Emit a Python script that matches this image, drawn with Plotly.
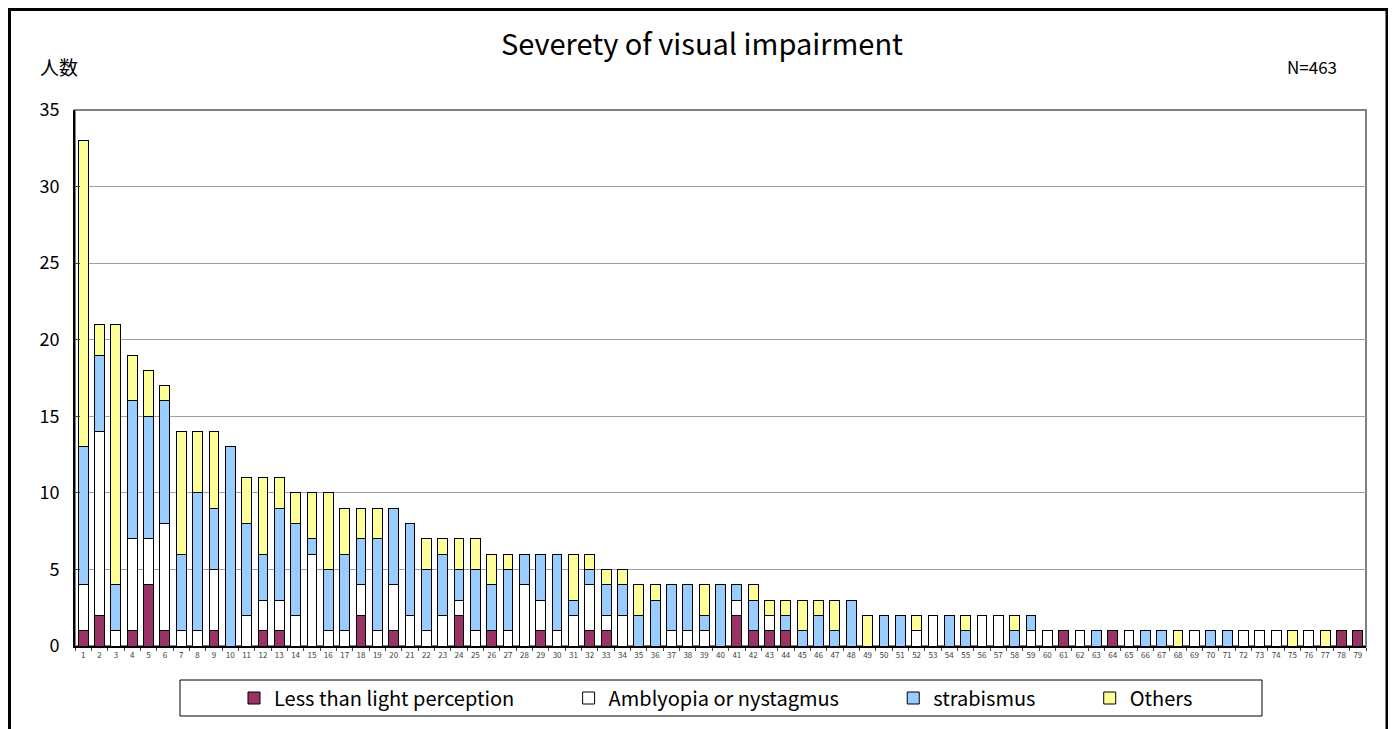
import plotly.graph_objects as go

# categories 1..79
cats = [str(i) for i in range(1, 80)]

less_light = [1, 2, 0, 1, 4, 1, 0, 0, 1, 0,
              0, 1, 1, 0, 0, 0, 0, 2, 0, 1,
              0, 0, 0, 2, 0, 1, 0, 0, 1, 0,
              0, 1, 1, 0, 0, 0, 0, 0, 0, 0,
              2, 1, 1, 1, 0, 0, 0, 0, 0, 0,
              0, 0, 0, 0, 0, 0, 0, 0, 0, 0,
              1, 0, 0, 1, 0, 0, 0, 0, 0, 0,
              0, 0, 0, 0, 0, 0, 0, 1, 1]
amblyopia = [3, 12, 1, 6, 3, 7, 1, 1, 4, 0,
             2, 2, 2, 2, 6, 1, 1, 2, 1, 3,
             2, 1, 2, 1, 1, 0, 1, 4, 2, 1,
             2, 3, 1, 2, 0, 0, 1, 1, 1, 0,
             1, 0, 1, 0, 0, 0, 0, 0, 0, 0,
             0, 1, 2, 0, 0, 2, 2, 0, 1, 1,
             0, 1, 0, 0, 1, 0, 0, 0, 1, 0,
             0, 1, 1, 1, 0, 1, 0, 0, 0]
strabismus = [9, 5, 3, 9, 8, 8, 5, 9, 4, 13,
              6, 3, 6, 6, 1, 4, 5, 3, 6, 5,
              6, 4, 4, 2, 4, 3, 4, 2, 3, 5,
              1, 1, 2, 2, 2, 3, 3, 3, 1, 4,
              1, 2, 0, 1, 1, 2, 1, 3, 0, 2,
              2, 0, 0, 2, 1, 0, 0, 1, 1, 0,
              0, 0, 1, 0, 0, 1, 1, 0, 0, 1,
              1, 0, 0, 0, 0, 0, 0, 0, 0]
others = [20, 2, 17, 3, 3, 1, 8, 4, 5, 0,
          3, 5, 2, 2, 3, 5, 3, 2, 2, 0,
          0, 2, 1, 2, 2, 2, 1, 0, 0, 0,
          3, 1, 1, 1, 2, 1, 0, 0, 2, 0,
          0, 1, 1, 1, 2, 1, 2, 0, 2, 0,
          0, 1, 0, 0, 1, 0, 0, 1, 0, 0,
          0, 0, 0, 0, 0, 0, 0, 1, 0, 0,
          0, 0, 0, 0, 1, 0, 1, 0, 0]

series = [
    ("Less than light perception", less_light, "#993366"),
    ("Amblyopia or nystagmus", amblyopia, "#FFFFFF"),
    ("strabismus", strabismus, "#99CCFF"),
    ("Others", others, "#FFFF99"),
]

FONT = "Noto Sans CJK JP"
pad = "\u00a0" * 11

fig = go.Figure()
for i, (name, vals, col) in enumerate(series):
    fig.add_trace(go.Bar(
        x=cats, y=vals,
        name=name + (pad if i < 3 else ""),
        marker=dict(color=col, line=dict(color="black", width=1)),
    ))

# the page body adds an 8px offset, so figure coords = page coords - 8
OFF = 8
FW, FH = 1396 - OFF, 729 - OFF
# plot area in page pixels: x 75..1366, y 110..646
L, R, T, B = 75 - OFF, 1366 - OFF, 110 - OFF, 646 - OFF
W, H = R - L, B - T
def px(x):
    return (x - OFF - L) / W
def py(y):
    return (B - (y - OFF)) / H

shapes = [
    # outer frame
    dict(type="rect", xref="paper", yref="paper",
         x0=px(OFF + 1.5), x1=px(1387), y0=py(780), y1=py(OFF + 1.5),
         line=dict(color="black", width=3), layer="above"),
    # plot frame
    dict(type="rect", xref="paper", yref="paper", x0=0, x1=1, y0=0, y1=1,
         line=dict(color="#808080", width=2), layer="below"),
    # legend box
    dict(type="rect", xref="paper", yref="paper",
         x0=px(180), x1=px(1262), y0=py(716), y1=py(680),
         line=dict(color="black", width=1)),
]

fig.update_layout(
    barmode="stack",
    bargap=0.4,
    width=FW, height=FH,
    margin=dict(l=L, r=FW - R, t=T, b=FH - B),
    paper_bgcolor="white", plot_bgcolor="white",
    font=dict(family=FONT, color="black"),
    title=dict(text="Severety of visual impairment", x=0.5, xanchor="center",
               y=1 - (45 - OFF) / FH, yanchor="middle",
               font=dict(size=29, family=FONT, color="black")),
    xaxis=dict(type="category", tickfont=dict(size=8, color="#404040"),
               tickangle=0, ticks="outside", ticklen=3,
               tickson="boundaries", showline=True, linecolor="black",
               linewidth=2, showgrid=False),
    yaxis=dict(range=[0, 35], dtick=5, tickfont=dict(size=18),
               ticklabelstandoff=10,
               showgrid=True, gridcolor="#a0a0a0", gridwidth=1,
               showline=True, linecolor="black", linewidth=2,
               ticks="inside", ticklen=5, zeroline=False),
    legend=dict(orientation="h", traceorder="normal",
                x=px(234), xanchor="left",
                y=py(698), yanchor="middle",
                font=dict(size=20), bgcolor="rgba(0,0,0,0)",
                borderwidth=0, itemclick=False),
    shapes=shapes,
    annotations=[
        dict(text="人数", xref="paper", yref="paper", x=px(38), y=py(67),
             xanchor="left", yanchor="middle", showarrow=False,
             font=dict(size=19)),
        dict(text="N=463", xref="paper", yref="paper", x=px(1339), y=py(67),
             xanchor="right", yanchor="middle", showarrow=False,
             font=dict(size=17)),
    ],
)

fig.write_html("out.html")
